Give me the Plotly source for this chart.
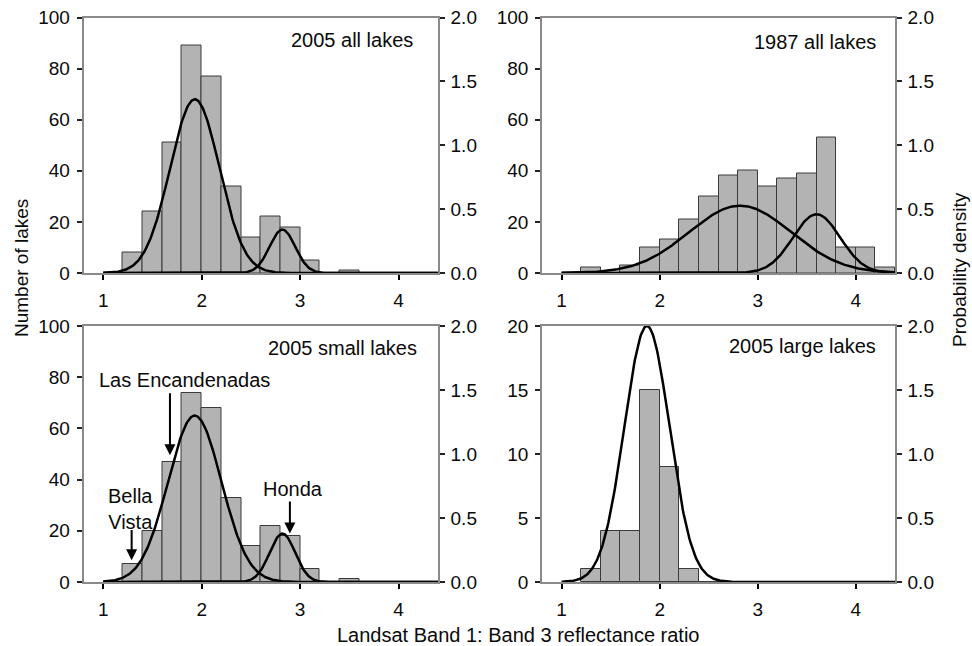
import numpy as np
import plotly.graph_objects as go

# ---------------- data ----------------
bin_centers = [1.3, 1.5, 1.7, 1.9, 2.1, 2.3, 2.5, 2.7, 2.9, 3.1, 3.3, 3.5, 3.7, 3.9, 4.1, 4.3]
bin_width = 0.2

counts_2005_all = [8, 24, 51, 89, 77, 34, 14, 22, 18, 5, 0, 1, 0, 0, 0, 0]
counts_1987_all = [2, 0, 3, 10, 13, 21, 30, 38, 40, 34, 37, 39, 53, 10, 10, 2]
counts_2005_small = [7, 20, 47, 74, 68, 33, 14, 22, 18, 5, 0, 1, 0, 0, 0, 0]
counts_2005_large = [1, 4, 4, 15, 9, 1, 0, 0, 0, 0, 0, 0, 0, 0, 0, 0]

# fitted normal components: (mean, sd, peak density)
comps_2005_all = [(1.93, 0.25, 1.36), (2.82, 0.13, 0.34)]
comps_1987_all = [(2.82, 0.52, 0.527), (3.60, 0.24, 0.46)]
comps_2005_small = [(1.93, 0.27, 1.30), (2.82, 0.13, 0.378)]
comps_2005_large = [(1.87, 0.23, 2.00)]

panel_titles = ["2005 all lakes", "1987 all lakes", "2005 small lakes", "2005 large lakes"]
count_max = [100, 100, 100, 20]
count_ticks = [[0, 20, 40, 60, 80, 100]] * 3 + [[0, 5, 10, 15, 20]]
density_ticks = [0.0, 0.5, 1.0, 1.5, 2.0]
x_ticks = [1, 2, 3, 4]
curve_range = (1.0, 4.4)

# labelled lakes in the 2005 small-lakes panel: (text, text x, text y, arrow x, arrow tail y, arrow tip y)
lake_labels = [
    ("Las Encandenadas", 1.826, 78.9, 1.678, 74.3, 49.5),
    ("Bella<br>Vista", 1.28, 28.4, 1.289, 20.9, 8.5),
    ("Honda", 2.924, 36.5, 2.896, 32.0, 18.9),
]

# ---------------- layout ----------------
W, H = 972, 646
FONT = "Liberation Sans, Arial, sans-serif"
TXT = "#0a0a0a"
AXC = "#8a8a8a"

xdom = [[83.5 / W, 438 / W], [542 / W, 895 / W]]
ydom = [[1 - 273 / H, 1 - 17.5 / H], [1 - 582 / H, 1 - 326 / H]]

counts = [counts_2005_all, counts_1987_all, counts_2005_small, counts_2005_large]
comps = [comps_2005_all, comps_1987_all, comps_2005_small, comps_2005_large]
title_pos = [(0.935, 0.912), (0.952, 0.904), (0.946, 0.913), (0.952, 0.922)]

fig = go.Figure()
xs = np.linspace(curve_range[0], curve_range[1], 400)

layout = dict(
    width=W, height=H, autosize=False,
    margin=dict(l=0, r=0, t=0, b=0, pad=0, autoexpand=False),
    paper_bgcolor="white", plot_bgcolor="white",
    showlegend=False, bargap=0,
    font=dict(family=FONT, size=19, color=TXT),
)
annotations = []

for i in range(4):
    n = i + 1
    xa = "x" if n == 1 else f"x{n}"
    ya = "y" if n == 1 else f"y{n}"
    yb = f"y{n + 4}"
    col, row = i % 2, i // 2

    fig.add_trace(go.Bar(
        x=bin_centers, y=counts[i], width=bin_width,
        marker=dict(color="#b3b3b3", line=dict(color="#3a3a3a", width=1)),
        xaxis=xa, yaxis=ya, hoverinfo="x+y",
    ))
    for (mu, sd, pk) in comps[i]:
        ys = pk * np.exp(-0.5 * ((xs - mu) / sd) ** 2)
        fig.add_trace(go.Scatter(
            x=xs, y=ys, mode="lines", line=dict(color="black", width=2.5),
            xaxis=xa, yaxis=yb, hoverinfo="skip",
        ))

    xkey = "xaxis" if n == 1 else f"xaxis{n}"
    ykey = "yaxis" if n == 1 else f"yaxis{n}"
    layout[xkey] = dict(
        domain=xdom[col], anchor=ya, range=[0.8, 4.4], automargin=False,
        tickmode="array", tickvals=x_ticks, ticktext=[str(t) for t in x_ticks],
        ticks="outside", ticklen=5, tickwidth=2, tickcolor="black",
        showline=True, linecolor=AXC, linewidth=1.5, mirror=True,
        showgrid=False, zeroline=False, tickfont=dict(size=19, color=TXT),
        ticklabelstandoff=4,
    )
    layout[ykey] = dict(
        domain=ydom[row], anchor=xa, range=[0, count_max[i]], automargin=False,
        tickmode="array", tickvals=count_ticks[i], ticktext=[str(t) for t in count_ticks[i]],
        ticks="outside", ticklen=5, tickwidth=1.5, tickcolor="#222222",
        showline=True, linecolor=AXC, linewidth=1.5,
        showgrid=False, zeroline=False, tickfont=dict(size=19, color=TXT),
        ticklabelstandoff=3,
    )
    layout[f"yaxis{n + 4}"] = dict(
        overlaying=ya, anchor=xa, side="right", range=[0, 2], automargin=False,
        tickmode="array", tickvals=density_ticks, ticktext=[f"{t:.1f}" for t in density_ticks],
        ticks="outside", ticklen=5, tickwidth=1.5, tickcolor="#222222",
        showline=True, linecolor=AXC, linewidth=1.5,
        showgrid=False, zeroline=False, tickfont=dict(size=19, color=TXT),
        ticklabelstandoff=2,
    )
    tx, ty = title_pos[i]
    annotations.append(dict(
        text=panel_titles[i], xref=f"{xa} domain", yref=f"{ya} domain",
        x=tx, y=ty, xanchor="right", yanchor="middle", showarrow=False,
        font=dict(size=20, color=TXT),
    ))

for (txt, tx, ty, ax_, tail, tip) in lake_labels:
    annotations.append(dict(
        text=txt, xref="x3", yref="y3", x=tx, y=ty, showarrow=False,
        xanchor="center", yanchor="middle", font=dict(size=20, color=TXT),
    ))
    annotations.append(dict(
        text="", xref="x3", yref="y3", x=ax_, y=tip, axref="x3", ayref="y3",
        ax=ax_, ay=tail, showarrow=True, arrowhead=2, arrowsize=1.1,
        arrowwidth=2, arrowcolor="black",
    ))

annotations += [
    dict(text="Number of lakes", xref="paper", yref="paper", x=21 / W, y=1 - 268 / H,
         textangle=-90, showarrow=False, xanchor="center", yanchor="middle",
         font=dict(size=19, color=TXT)),
    dict(text="Probability density", xref="paper", yref="paper", x=960 / W, y=1 - 270 / H,
         textangle=-90, showarrow=False, xanchor="center", yanchor="middle",
         font=dict(size=19, color=TXT)),
    dict(text="Landsat Band 1: Band 3 reflectance ratio", xref="paper", yref="paper",
         x=518 / W, y=1 - 635 / H, showarrow=False, xanchor="center", yanchor="middle",
         font=dict(size=20, color=TXT)),
]
layout["annotations"] = annotations
fig.update_layout(**layout)
fig.write_html("out.html", config={"displayModeBar": False},
               post_script="document.body.style.margin='0px';")
